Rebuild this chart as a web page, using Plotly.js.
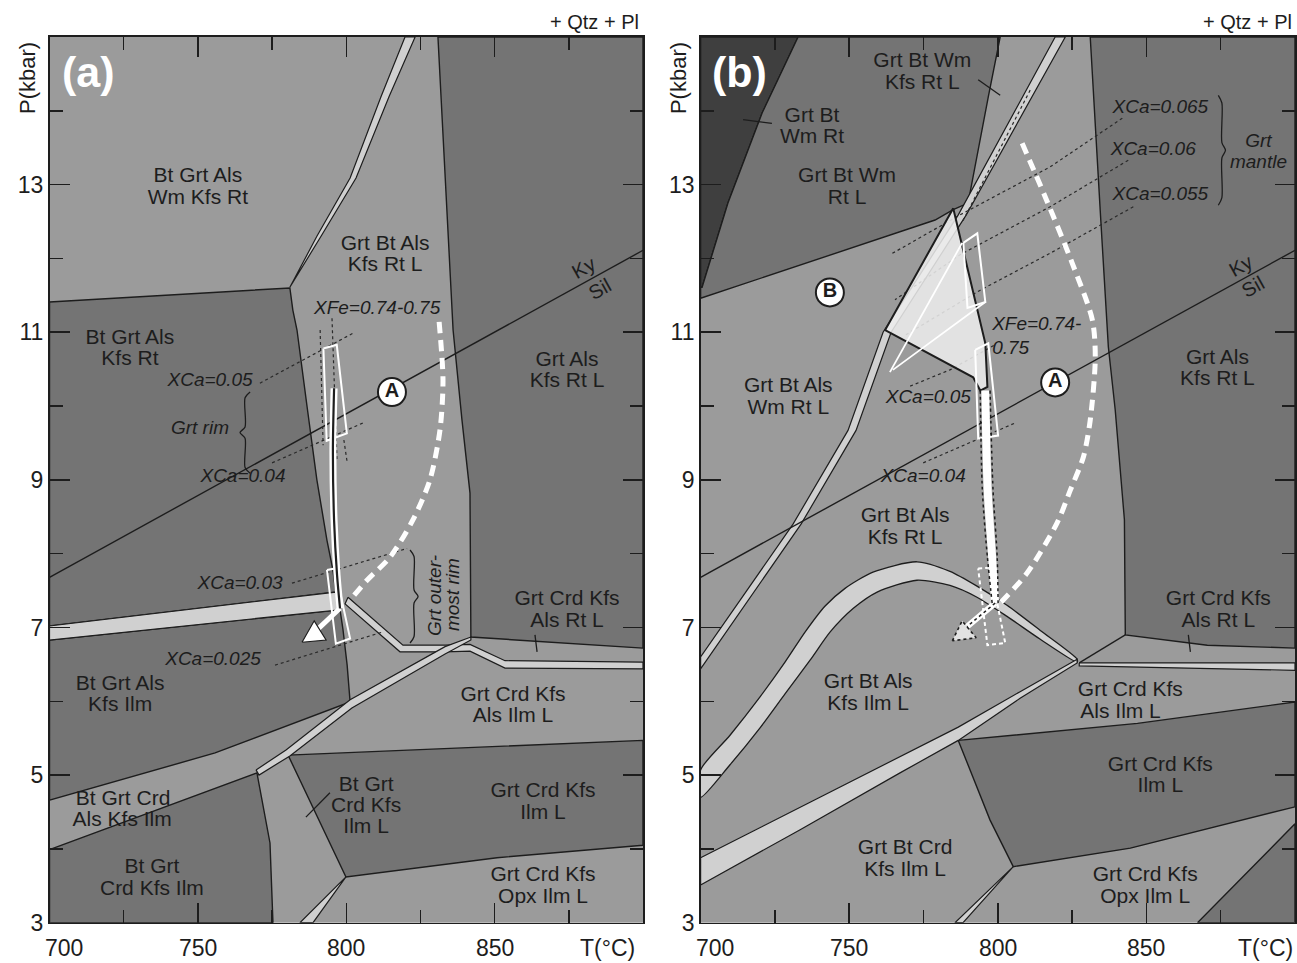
<!DOCTYPE html>
<html>
<head>
<meta charset="utf-8">
<script src="https://cdn.plot.ly/plotly-3.0.1.min.js"></script>
<style>
  html, body { margin: 0; padding: 0; background: #fff; }
  #chart { width: 1297px; height: 963px; }
</style>
</head>
<body>
<div id="chart"></div>
<script>
// P–T pseudosections (+ Qtz + Pl), T in °C and P in kbar.

// ---------- shared axis values ----------
const xTickVals = [700, 750, 800, 850];
const xTickText = ['700', '750', '800', '850'];
const yTickVals = [3, 5, 7, 9, 11, 13];
const yTickText = ['3', '5', '7', '9', '11', '13'];
const kySilT = [700, 900];
const kySilP = [7.68, 12.11];

// ---------- panel (a) fields ----------
const aBtGrtAlsKfsRtT = [700, 781.0, 782.0, 783.4, 786.8, 790.1, 793.5, 795.5, 796.5, 700];
const aBtGrtAlsKfsRtP = [11.41, 11.60, 11.30, 11.03, 9.99, 9.00, 8.18, 7.78, 7.48, 7.02];
const aGrtAlsKfsRtLT = [830.9, 900, 900, 842.0, 841.7, 839.0, 836.0];
const aGrtAlsKfsRtLP = [15, 15, 6.72, 6.87, 8.82, 9.81, 11.03];
const aBtGrtAlsKfsIlmT = [700, 797.9, 798.9, 800.3, 801.3, 755.8, 700];
const aBtGrtAlsKfsIlmP = [6.83, 7.24, 6.97, 6.49, 5.99, 5.30, 4.66];
const aBtGrtCrdKfsIlmT = [700, 769.9, 774.3, 775.3, 700];
const aBtGrtCrdKfsIlmP = [3.99, 5.03, 4.08, 3, 3];
const aGrtCrdKfsIlmLT = [780.4, 900, 900, 850.8, 799.9];
const aGrtCrdKfsIlmLP = [5.27, 5.47, 4.05, 3.88, 3.62];

// narrow fields (bands)
const aBandTopT = [781.0, 790.1, 801.3, 811.7, 819.8, 823.2, 814.4, 803.3, 791.5, 781.7];
const aBandTopP = [11.61, 12.30, 13.09, 14.19, 15, 15, 14.19, 13.09, 12.30, 11.64];
const aBandLeftT = [700, 796.5, 797.9, 700];
const aBandLeftP = [7.02, 7.48, 7.24, 6.83];
const aBandRightT = [800.6, 819.1, 833.3, 841.7, 853.5, 900, 900, 853.5, 841.7, 833.3, 818.1, 799.6];
const aBandRightP = [7.41, 6.76, 6.76, 6.77, 6.55, 6.53, 6.44, 6.45, 6.68, 6.67, 6.67, 7.32];
const aBandDiagT = [769.6, 779.7, 801.3, 833.3, 842.0, 842.0, 833.3, 801.9, 781.0, 770.6];
const aBandDiagP = [5.07, 5.34, 6.02, 6.74, 6.87, 6.83, 6.64, 5.91, 5.26, 5.00];
const aBandLowT = [799.9, 784.4, 788.8];
const aBandLowP = [3.62, 3, 3];

// label leader ticks
const aLeader1T = [863.6, 864.3], aLeader1P = [6.90, 6.67];
const aLeader2T = [786.4, 794.5], aLeader2P = [4.43, 4.76];

// isopleths (XCa, XFe)
const aIsoCa050T = [770.9, 802.9], aIsoCa050P = [10.31, 11.00];
const aIsoCa040T = [775.0, 805.6], aIsoCa040P = [9.23, 9.77];
const aIsoCa030T = [781.7, 820.5], aIsoCa030P = [7.60, 8.07];
const aIsoCa025T = [776.0, 812.4], aIsoCa025P = [6.49, 6.94];
const aIsoFe1T = [791.2, 792.2], aIsoFe1P = [11.03, 9.47];
const aIsoFe2T = [795.2, 796.9], aIsoFe2P = [11.19, 9.24];
const aIsoFe3T = [799.2, 800.3], aIsoFe3P = [9.54, 9.24];

// P–T path of panel (a)
const aPathT = [795.9, 795.5, 795.9, 796.9, 797.9];
const aPathP = [10.24, 9.40, 8.45, 7.71, 7.26];
const aArrowT = [797.9, 790.5], aArrowP = [7.26, 6.98];
const aHeadT = [785.1, 789.2, 793.2], aHeadP = [6.80, 7.09, 6.83];
const aBoxRimT = [792.3, 796.8, 800.2, 793.4], aBoxRimP = [10.78, 10.83, 9.63, 9.53];
const aBoxOuterT = [793.5, 796.2, 801.3, 796.5], aBoxOuterP = [7.78, 7.80, 6.85, 6.78];
const aPathAT = [831.3, 832.6, 831.6, 828.2, 822.5, 814.7, 807.0, 801.3];
const aPathAP = [11.14, 10.35, 9.68, 9.00, 8.46, 7.95, 7.64, 7.37];
const aCircleT = [815.4], aCircleP = [10.19], aCircleText = ['A'];

// panel (a) texts
const aLabText = ['Bt Grt Als', 'Wm Kfs Rt', 'Grt Bt Als', 'Kfs Rt L', 'Bt Grt Als', 'Kfs Rt',
  'Grt Als', 'Kfs Rt L', 'Grt Crd Kfs', 'Als Rt L', 'Bt Grt Als', 'Kfs Ilm', 'Grt Crd Kfs',
  'Als Ilm L', 'Bt Grt Crd', 'Als Kfs Ilm', 'Bt Grt', 'Crd Kfs', 'Ilm L', 'Grt Crd Kfs', 'Ilm L',
  'Bt Grt', 'Crd Kfs Ilm', 'Grt Crd Kfs', 'Opx Ilm L'];
const aLabT = [750.0, 750.0, 813.1, 813.1, 727.1, 727.1, 874.4, 874.4, 874.4, 874.4, 723.8, 723.8,
  856.2, 856.2, 724.8, 724.5, 806.7, 806.7, 806.7, 866.3, 866.3, 734.5, 734.5, 866.3, 866.3];
const aLabP = [13.10, 12.81, 12.19, 11.90, 10.915, 10.625, 10.62, 10.33, 7.37, 7.08, 6.225, 5.935,
  6.075, 5.785, 4.67, 4.38, 4.86, 4.57, 4.28, 4.77, 4.48, 3.74, 3.45, 3.63, 3.34];
const aNoteText = ['XFe=0.74-0.75', 'XCa=0.05', 'Grt rim', 'XCa=0.04', 'XCa=0.03', 'XCa=0.025'];
const aNoteT = [810.4, 754.1, 750.7, 765.2, 764.2, 755.1];
const aNoteP = [11.31, 10.33, 9.68, 9.03, 7.58, 6.56];

// ---------- panel (b) fields ----------
const bDarkestT = [700, 732.8, 720.7, 709.2, 700.5, 700];
const bDarkestP = [15, 15, 13.97, 12.75, 11.61, 11.61];
const bGrtBtWmRtT = [732.8, 800.8, 796.8, 790.0, 785.0, 778.9, 700, 700, 700.5, 709.2, 720.7];
const bGrtBtWmRtP = [15, 15, 14.19, 12.75, 12.66, 12.52, 11.46, 11.61, 11.61, 12.75, 13.97];
const bGrtAlsKfsRtLT = [831.1, 900, 900, 870.5, 842.9, 842.6, 839.5, 837.2, 834.5, 832.1];
const bGrtAlsKfsRtLP = [15, 15, 6.72, 6.76, 6.90, 8.46, 9.95, 10.80, 12.62, 14.42];
const bGrtCrdKfsIlmLT = [786.7, 847.0, 900, 900, 844.6, 805.2, 797.4];
const bGrtCrdKfsIlmLP = [5.47, 5.70, 5.99, 4.57, 4.01, 3.76, 4.39];
const bCornerT = [867.2, 900, 900];
const bCornerP = [3, 4.34, 3];

// bands of panel (b)
const bBandKfsT = [819.3, 786.7, 761.4, 749.6, 731.1, 706.2, 700, 700, 708.9, 733.8, 752.3, 764.1, 789.4, 822.7];
const bBandKfsP = [15, 12.59, 11.00, 9.67, 8.40, 6.96, 6.60, 6.44, 6.96, 8.40, 9.67, 11.00, 12.59, 15];
const bBandDomeT = [700, 709.9, 720.0, 728.4, 735.2, 741.9, 748.6, 758.0, 772.8, 783.9, 793.0, 803.1, 814.3, 826.7,
  826.7, 814.3, 803.1, 793.0, 783.9, 772.8, 759.4, 751.4, 743.6, 736.9, 728.4, 720.0, 709.9, 700];
const bBandDomeP = [5.07, 5.54, 6.06, 6.53, 6.94, 7.29, 7.53, 7.75, 7.89, 7.76, 7.56, 7.30, 6.96, 6.57,
  6.53, 6.84, 7.15, 7.41, 7.57, 7.64, 7.48, 7.26, 6.94, 6.56, 6.10, 5.64, 5.14, 4.70];
const bBandDiagT = [700, 733.5, 767.1, 786.7, 807.5, 826.7, 826.7, 807.5, 786.7, 767.1, 733.5, 700];
const bBandDiagP = [3.88, 4.56, 5.25, 5.65, 6.13, 6.57, 6.52, 6.04, 5.47, 5.03, 4.26, 3.51];
const bBandRightT = [827.4, 900, 900, 827.4];
const bBandRightP = [6.52, 6.52, 6.42, 6.48];
const bBandLowT = [805.2, 785.6, 788.3];
const bBandLowP = [3.76, 3, 3];

const bJoinT = [827.4, 842.9], bJoinP = [6.52, 6.90];
const bLeader1T = [714.3, 724.0], bLeader1P = [13.88, 13.83];
const bLeader2T = [793.4, 800.8], bLeader2P = [14.42, 14.21];
const bLeader3T = [864.1, 864.8], bLeader3P = [6.90, 6.67];

// isopleths of panel (b)
const bIsoCa065T = [841.9, 817.6, 787.3, 763.7], bIsoCa065P = [13.90, 13.24, 12.59, 12.05];
const bIsoCa060T = [843.9, 817.6, 787.3, 765.4], bIsoCa060P = [13.33, 12.70, 12.05, 11.44];
const bIsoCa055T = [845.6, 817.6, 794.1, 768.8], bIsoCa055P = [12.70, 12.07, 11.57, 10.96];
const bIsoCa050T = [770.5, 783.9, 799.1], bIsoCa050P = [10.27, 10.49, 10.83];
const bIsoCa040T = [774.9, 805.8], bIsoCa040P = [9.23, 9.77];
const bIsoFeT = [810.9, 788.0], bIsoFeP = [14.28, 12.49];

// peak field and path of panel (b)
const bPeakT = [785.0, 762.1, 791.7, 794.1, 796.5, 795.8];
const bPeakP = [12.68, 11.03, 10.39, 10.21, 10.26, 10.85];
const bBoxMantleT = [788.4, 793.1, 795.8, 789.8], bBoxMantleP = [12.21, 12.34, 11.41, 11.33];
const bWhite1T = [763.7, 788.0], bWhite1P = [10.46, 12.21];
const bWhite2T = [764.7, 795.8], bWhite2P = [10.49, 11.41];
const bBoxRimT = [792.4, 796.8, 800.1, 793.4], bBoxRimP = [10.76, 10.85, 9.60, 9.56];
const bBoxOuterT = [793.4, 797.4, 802.5, 796.5], bBoxOuterP = [7.80, 7.81, 6.79, 6.76];
const bPathMidT = [795.8, 796.6, 798.1, 799.1];
const bPathLeftT = [794.1, 794.8, 796.5, 798.1];
const bPathRightT = [797.4, 798.4, 799.8, 800.1];
const bPathP = [10.21, 8.86, 7.95, 7.33];
const bArrowT = [799.1, 789.0], bArrowP = [7.33, 6.99];
const bHeadT = [784.7, 788.0, 792.7], bHeadP = [6.82, 7.09, 6.86];
const bPathAT = [808.2, 816.0, 825.0, 831.8, 832.8, 831.1, 828.8, 824.4, 820.0, 809.9, 800.8];
const bPathAP = [13.56, 12.83, 11.94, 11.17, 10.66, 9.81, 9.31, 8.86, 8.42, 7.74, 7.33];
const bCircleT = [743.5, 819.3], bCircleP = [11.54, 10.32], bCircleText = ['B', 'A'];

// panel (b) texts
const bLabText = ['Grt Bt', 'Wm Rt', 'Grt Bt Wm', 'Rt L', 'Grt Bt Wm', 'Kfs Rt L', 'Grt Bt Als', 'Wm Rt L',
  'Grt Bt Als', 'Kfs Rt L', 'Grt Als', 'Kfs Rt L', 'Grt Crd Kfs', 'Als Rt L', 'Grt Crd Kfs', 'Als Ilm L',
  'Grt Bt Als', 'Kfs Ilm L', 'Grt Crd Kfs', 'Ilm L', 'Grt Bt Crd', 'Kfs Ilm L', 'Grt Crd Kfs', 'Opx Ilm L'];
const bLabT = [737.5, 737.5, 749.3, 749.3, 774.6, 774.6, 729.5, 729.5, 768.8, 768.8, 873.9, 873.9,
  874.2, 874.2, 844.6, 841.3, 756.4, 756.4, 854.7, 854.7, 768.8, 768.8, 849.6, 849.6];
const bLabP = [13.92, 13.63, 13.105, 12.815, 14.66, 14.37, 10.255, 9.965, 8.495, 8.205, 10.64, 10.35,
  7.37, 7.08, 6.14, 5.85, 6.245, 5.955, 5.13, 4.84, 3.995, 3.705, 3.63, 3.34];
const bNoteText = ['XCa=0.065', 'XCa=0.06', 'XCa=0.055', 'Grt', 'mantle', 'XCa=0.05', 'XCa=0.04'];
const bNoteT = [854.7, 852.3, 854.7, 887.7, 887.7, 776.6, 774.9];
const bNoteP = [14.04, 13.47, 12.86, 13.58, 13.29, 10.11, 9.03];
const bXFeText = ['XFe=0.74-', '0.75'];
const bXFeT = [798.1, 798.1];
const bXFeP = [11.10, 10.77];

// ---------- drawing helpers ----------
const FONT = 'Liberation Sans, Arial, Helvetica, sans-serif';
const INK = '#1d1d1d';
const LIGHT = '#9b9b9b';
const DARK = '#747474';
const DARKEST = '#3f3f3f';
const BAND = '#d0d0d0';
const A = ['x', 'y'];
const B = ['x2', 'y2'];
const traces = [];

function ring(a) { return a.concat([a[0]]); }
function field(ax, T, P, color, opts) {
  opts = opts || {};
  traces.push({
    type: 'scatter', mode: 'lines', xaxis: ax[0], yaxis: ax[1],
    x: ring(T), y: ring(P), fill: 'toself', fillcolor: color,
    line: { color: opts.lineColor || INK, width: opts.width === undefined ? 1.4 : opts.width,
            shape: opts.shape || 'linear', dash: opts.dash || 'solid', smoothing: 0.7 },
    hoverinfo: 'skip', showlegend: false
  });
}
function curve(ax, T, P, color, width, dash, shape) {
  traces.push({
    type: 'scatter', mode: 'lines', xaxis: ax[0], yaxis: ax[1], x: T, y: P,
    line: { color: color, width: width, dash: dash || 'solid', shape: shape || 'linear', smoothing: 0.8 },
    hoverinfo: 'skip', showlegend: false
  });
}
function texts(ax, T, P, txt, size, italic, pos) {
  traces.push({
    type: 'scatter', mode: 'text', xaxis: ax[0], yaxis: ax[1], x: T, y: P, text: txt,
    textposition: pos || 'middle center', cliponaxis: false,
    textfont: { family: FONT, size: size, color: INK, style: italic ? 'italic' : 'normal' },
    hoverinfo: 'skip', showlegend: false
  });
}
function circles(ax, T, P, txt) {
  traces.push({
    type: 'scatter', mode: 'markers+text', xaxis: ax[0], yaxis: ax[1], x: T, y: P,
    text: txt.map(function (s) { return '<b>' + s + '</b>'; }), textposition: 'middle center',
    marker: { size: 28, color: '#ffffff', line: { color: INK, width: 2 } },
    textfont: { family: FONT, size: 20, color: INK },
    hoverinfo: 'skip', showlegend: false
  });
}
// curly bracket from P0 to P1 at T0; signed width w points the tip
function brace(ax, T0, P0, P1, w) {
  const h = P1 - P0, m = (P0 + P1) / 2;
  curve(ax, [T0, T0 + w * 0.5, T0 + w * 0.5, T0 + w, T0 + w * 0.5, T0 + w * 0.5, T0],
    [P1, P1 - h * 0.07, m + h * 0.07, m, m - h * 0.07, P0 + h * 0.07, P0], INK, 1.3, 'solid', 'spline');
}

const LABEL_SIZE = 21;
const NOTE_SIZE = 19;

// ---------- panel (a) ----------
field(A, aBtGrtAlsKfsRtT, aBtGrtAlsKfsRtP, DARK);
field(A, aGrtAlsKfsRtLT, aGrtAlsKfsRtLP, DARK);
field(A, aBtGrtAlsKfsIlmT, aBtGrtAlsKfsIlmP, DARK);
field(A, aBtGrtCrdKfsIlmT, aBtGrtCrdKfsIlmP, DARK);
field(A, aGrtCrdKfsIlmLT, aGrtCrdKfsIlmLP, DARK);
field(A, aBandTopT, aBandTopP, BAND, { width: 1.2 });
field(A, aBandLeftT, aBandLeftP, BAND, { width: 1.2 });
field(A, aBandRightT, aBandRightP, BAND, { width: 1.2 });
field(A, aBandDiagT, aBandDiagP, BAND, { width: 1.2 });
field(A, aBandLowT, aBandLowP, BAND, { width: 1.2 });
curve(A, kySilT, kySilP, INK, 1.4);
curve(A, aLeader1T, aLeader1P, INK, 1.3);
curve(A, aLeader2T, aLeader2P, INK, 1.3);
[[aIsoCa050T, aIsoCa050P], [aIsoCa040T, aIsoCa040P], [aIsoCa030T, aIsoCa030P], [aIsoCa025T, aIsoCa025P],
 [aIsoFe1T, aIsoFe1P], [aIsoFe2T, aIsoFe2P], [aIsoFe3T, aIsoFe3P]].forEach(function (l) {
  curve(A, l[0], l[1], '#2a2a2a', 1.2, 'dot');
});
field(A, aBoxRimT, aBoxRimP, 'rgba(0,0,0,0)', { lineColor: '#ffffff', width: 2 });
field(A, aBoxOuterT, aBoxOuterP, 'rgba(0,0,0,0)', { lineColor: '#ffffff', width: 2 });
curve(A, aPathAT, aPathAP, '#ffffff', 5, '11px,7px', 'spline');
curve(A, aPathT, aPathP, '#ffffff', 7, 'solid', 'spline');
curve(A, aArrowT, aArrowP, '#ffffff', 5);
curve(A, aPathT, aPathP, INK, 2.2, 'solid', 'spline');
field(A, aHeadT, aHeadP, '#ffffff', { width: 1.2 });
brace(A, 767.6, 9.09, 10.19, -3.4);
brace(A, 821.5, 6.79, 8.05, 2.7);
texts(A, aLabT, aLabP, aLabText, LABEL_SIZE, false);
texts(A, aNoteT, aNoteP, aNoteText, NOTE_SIZE, true);
circles(A, aCircleT, aCircleP, aCircleText);

// ---------- panel (b) ----------
field(B, bDarkestT, bDarkestP, DARKEST);
field(B, bGrtBtWmRtT, bGrtBtWmRtP, DARK);
field(B, bGrtAlsKfsRtLT, bGrtAlsKfsRtLP, DARK);
field(B, bGrtCrdKfsIlmLT, bGrtCrdKfsIlmLP, DARK);
field(B, bCornerT, bCornerP, DARK);
field(B, bBandKfsT, bBandKfsP, BAND, { width: 1.2 });
field(B, bBandDomeT, bBandDomeP, BAND, { width: 1.3, shape: 'spline' });
field(B, bBandDiagT, bBandDiagP, BAND, { width: 1.2 });
field(B, bBandRightT, bBandRightP, BAND, { width: 1.2 });
field(B, bBandLowT, bBandLowP, BAND, { width: 1.2 });
curve(B, kySilT, kySilP, INK, 1.4);
curve(B, bJoinT, bJoinP, INK, 1.3);
curve(B, bLeader1T, bLeader1P, INK, 1.3);
curve(B, bLeader2T, bLeader2P, INK, 1.3);
curve(B, bLeader3T, bLeader3P, INK, 1.3);
[[bIsoCa065T, bIsoCa065P], [bIsoCa060T, bIsoCa060P], [bIsoCa055T, bIsoCa055P], [bIsoCa050T, bIsoCa050P],
 [bIsoCa040T, bIsoCa040P], [bIsoFeT, bIsoFeP]].forEach(function (l) {
  curve(B, l[0], l[1], '#2a2a2a', 1.2, 'dot');
});
field(B, bPeakT, bPeakP, 'rgba(238,238,238,0.86)', { width: 2 });
curve(B, bWhite1T, bWhite1P, '#ffffff', 1.8);
curve(B, bWhite2T, bWhite2P, '#ffffff', 1.8);
field(B, bBoxMantleT, bBoxMantleP, 'rgba(0,0,0,0)', { lineColor: '#ffffff', width: 2 });
field(B, bBoxRimT, bBoxRimP, 'rgba(0,0,0,0)', { lineColor: '#ffffff', width: 2 });
field(B, bBoxOuterT, bBoxOuterP, 'rgba(0,0,0,0)', { lineColor: '#ffffff', width: 2, dash: '4px,3px' });
curve(B, bPathAT, bPathAP, '#ffffff', 5, '11px,7px', 'spline');
curve(B, bPathMidT, bPathP, '#ffffff', 8, 'solid', 'spline');
curve(B, bArrowT, bArrowP, '#ffffff', 6);
curve(B, bPathLeftT, bPathP, INK, 1.5, 'dot', 'spline');
curve(B, bPathRightT, bPathP, INK, 1.5, 'dot', 'spline');
curve(B, bArrowT, bArrowP, INK, 1.5, 'dot');
field(B, bHeadT, bHeadP, '#e2e2e2', { width: 1.6, dash: 'dot' });
brace(B, 874.2, 12.72, 14.21, 2.4);
texts(B, bLabT, bLabP, bLabText, LABEL_SIZE, false);
texts(B, bNoteT, bNoteP, bNoteText, NOTE_SIZE, true);
texts(B, bXFeT, bXFeP, bXFeText, NOTE_SIZE, true, 'middle right');
circles(B, bCircleT, bCircleP, bCircleText);

// ---------- axes ----------
function xAxis(domain, anchor) {
  return {
    domain: domain, anchor: anchor, range: [700, 900], showgrid: false, zeroline: false,
    showline: true, linecolor: INK, linewidth: 1.5, mirror: 'ticks',
    tickmode: 'linear', tick0: 700, dtick: 50, ticks: 'inside', ticklen: 20, tickwidth: 1.5, tickcolor: INK,
    minor: { ticks: 'inside', dtick: 25, tick0: 700, ticklen: 13, tickwidth: 1.5, tickcolor: INK },
    showticklabels: false
  };
}
function yAxis(anchor) {
  return {
    domain: [0.04185, 0.96158], anchor: anchor, range: [3, 15], showgrid: false, zeroline: false,
    showline: true, linecolor: INK, linewidth: 1.5, mirror: 'ticks',
    tickmode: 'array', tickvals: yTickVals, ticktext: yTickText,
    ticks: 'inside', ticklen: 20, tickwidth: 1.5, tickcolor: INK,
    minor: { ticks: 'inside', dtick: 1, tick0: 3, ticklen: 13, tickwidth: 1.5, tickcolor: INK },
    tickfont: { family: FONT, size: 23, color: INK }
  };
}

// x tick labels and titles sit just below the frame (paper y), at data x
const LABEL_ROW = 1 - 948 / 963;
const annotations = [];
[['x', 887.9, '(a)'], ['x2', 890.0, '(b)']].forEach(function (p) {
  xTickVals.forEach(function (v, i) {
    annotations.push({ xref: p[0], yref: 'paper', x: v, y: LABEL_ROW, yanchor: 'middle', text: xTickText[i],
      showarrow: false, xshift: i === 0 ? 14 : 0, font: { family: FONT, size: 23, color: INK } });
  });
  annotations.push({ xref: p[0], yref: 'paper', x: p[1], y: LABEL_ROW, yanchor: 'middle', text: 'T(°C)',
    showarrow: false, font: { family: FONT, size: 23, color: INK } });
  annotations.push({ xref: p[0], yref: p[0] === 'x' ? 'y' : 'y2', x: 713.1, y: 14.52, text: '<b>' + p[2] + '</b>',
    showarrow: false, font: { family: FONT, size: 43, color: '#ffffff' } });
});
[[0.0208, 0.4946], [0.5228, 0.9977]].forEach(function (p) {
  annotations.push({ xref: 'paper', yref: 'paper', x: p[0], y: 0.919, xanchor: 'center', yanchor: 'middle',
    text: 'P(kbar)', textangle: -90, showarrow: false, font: { family: FONT, size: 22, color: INK } });
  annotations.push({ xref: 'paper', yref: 'paper', x: p[1], y: 1 - 22 / 963, xanchor: 'right', yanchor: 'middle',
    text: '+ Qtz + Pl', showarrow: false, font: { family: FONT, size: 20, color: INK } });
});
function rotated(xr, yr, T, P, text, angle, italic) {
  annotations.push({ xref: xr, yref: yr, x: T, y: P, text: text, textangle: angle, showarrow: false,
    font: { family: FONT, size: italic ? NOTE_SIZE : 20, color: INK, style: italic ? 'italic' : 'normal' } });
}
rotated('x', 'y', 879.8, 11.87, 'Ky', -29, false);
rotated('x', 'y', 885.5, 11.58, 'Sil', -29, false);
rotated('x', 'y', 829.9, 7.44, 'Grt outer-', -90, true);
rotated('x', 'y', 836.0, 7.44, 'most rim', -90, true);
rotated('x2', 'y2', 881.6, 11.90, 'Ky', -29, false);
rotated('x2', 'y2', 885.7, 11.61, 'Sil', -29, false);

const layout = {
  width: 1297, height: 963, margin: { l: 0, r: 0, t: 0, b: 0 },
  paper_bgcolor: '#ffffff', plot_bgcolor: LIGHT, showlegend: false,
  xaxis: xAxis([0.03817, 0.49576], 'y'),
  yaxis: yAxis('x'),
  xaxis2: xAxis([0.54017, 0.99846], 'y2'),
  yaxis2: yAxis('x2'),
  annotations: annotations
};

Plotly.newPlot('chart', traces, layout, { staticPlot: true, displayModeBar: false });
</script>
</body>
</html>
